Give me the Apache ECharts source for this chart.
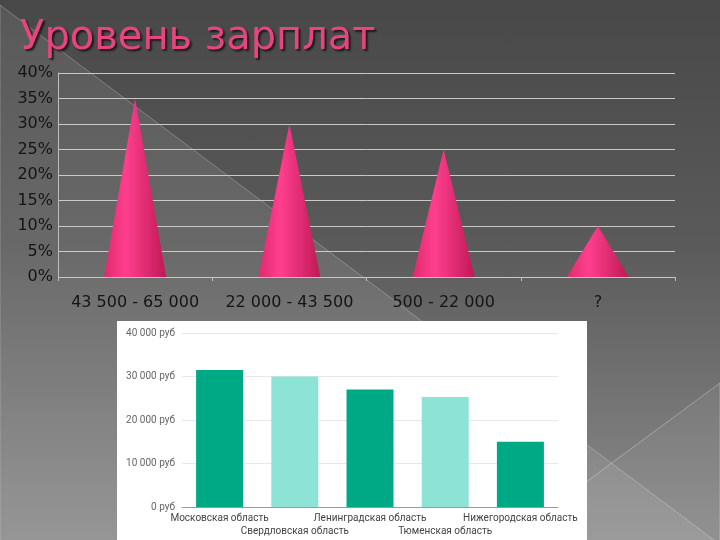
<!DOCTYPE html>
<html>
<head>
<meta charset="utf-8">
<script src="https://cdn.jsdelivr.net/npm/echarts@6/dist/echarts.min.js"></script>
<style>
  html, body { margin: 0; padding: 0; }
  body { background: linear-gradient(180deg, #484848 0%, #5a5a5a 45%, #8c8c8c 100%); }
  #main { width: 720px; height: 540px; }
</style>
</head>
<body>
<div id="main"></div>
<script>
// верхняя диаграмма: доля по диапазонам зарплат
const salaryRanges = ['43 500 - 65 000', '22 000 - 43 500', '500 - 22 000', '?'];
const rangeShares = [35, 30, 25, 10];
const shareTicks = { min: 0, max: 40, step: 5 };

// нижняя диаграмма: средняя зарплата по регионам
const regions = ['Московская область', 'Свердловская область', 'Ленинградская область', 'Тюменская область', 'Нижегородская область'];
const regionSalary = [31500, 30000, 27000, 25300, 15000];
const rubTicks = { min: 0, max: 40000, step: 10000 };

const chart = echarts.init(document.getElementById('main'));

const coneColor = new echarts.graphic.LinearGradient(0, 0, 1, 0, [
    { offset: 0, color: '#e02a6e' },
    { offset: 0.35, color: '#ff3f8e' },
    { offset: 1, color: '#c01856' }
]);

const fmtRub = v => (v === 0 ? '0' : String(v).replace(/\B(?=(\d{3})+(?!\d))/g, ' ')) + ' руб';

chart.setOption({
    animation: false,
    backgroundColor: 'transparent',
    title: {
        text: 'Уровень зарплат',
        left: 15,
        top: 14,
        textStyle: {
            fontFamily: 'DejaVu Sans',
            fontSize: 40,
            fontWeight: 'normal',
            color: '#e6457f',
            textShadowColor: 'rgba(20,20,20,0.9)',
            textShadowBlur: 2,
            textShadowOffsetX: 2,
            textShadowOffsetY: 2
        }
    },
    graphic: [
        // светлый треугольник фона
        { type: 'polygon', z: -10, silent: true,
          shape: { points: [[0, 5], [730, 552], [0, 552]] },
          style: { fill: 'rgba(255,255,255,0.09)', stroke: 'rgba(255,255,255,0.25)', lineWidth: 1 } },
        { type: 'polygon', z: -10, silent: true,
          shape: { points: [[720, 383], [440, 590], [720, 590]] },
          style: { fill: 'rgba(255,255,255,0.05)', stroke: 'rgba(255,255,255,0.3)', lineWidth: 1 } },
        // белая подложка нижней диаграммы
        { type: 'rect', z: -5, silent: true,
          shape: { x: 117, y: 321, width: 470, height: 225 },
          style: { fill: '#ffffff' } }
    ],
    grid: [
        { left: 58, right: 45, top: 73, bottom: 263 },
        { left: 182, right: 162, top: 333, bottom: 33 }
    ],
    xAxis: [
        {
            gridIndex: 0,
            type: 'category',
            data: salaryRanges,
            axisLine: { show: false },
            axisTick: { show: true, length: 4, lineStyle: { color: '#bdbdbd' } },
            axisLabel: { interval: 0, margin: 18, fontFamily: 'DejaVu Sans', fontSize: 16, color: '#151515' }
        },
        {
            gridIndex: 1,
            type: 'category',
            data: regions,
            axisLine: { lineStyle: { color: '#9a9a9a' } },
            axisTick: { show: false },
            axisLabel: {
                interval: 0,
                margin: 5,
                fontFamily: 'Roboto',
                fontSize: 10,
                lineHeight: 13,
                color: '#444',
                formatter: (v, i) => (i % 2 ? '\n' + v : v)
            }
        }
    ],
    yAxis: [
        {
            gridIndex: 0,
            type: 'value',
            min: shareTicks.min,
            max: shareTicks.max,
            interval: shareTicks.step,
            axisLine: { show: true, lineStyle: { color: '#bdbdbd' } },
            axisTick: { show: false },
            splitLine: { lineStyle: { color: '#c9c9c9', width: 1 } },
            axisLabel: { margin: 5, fontFamily: 'DejaVu Sans', fontSize: 16, color: '#151515', formatter: '{value}%' }
        },
        {
            gridIndex: 1,
            type: 'value',
            min: rubTicks.min,
            max: rubTicks.max,
            interval: rubTicks.step,
            axisLine: { show: false },
            axisTick: { show: false },
            splitLine: { lineStyle: { color: '#e8e8e8' } },
            axisLabel: { margin: 7, fontFamily: 'Roboto', fontSize: 10, color: '#666', formatter: fmtRub }
        }
    ],
    series: [
        {
            type: 'pictorialBar',
            xAxisIndex: 0,
            yAxisIndex: 0,
            symbol: 'triangle',
            symbolSize: [62, '100%'],
            itemStyle: { color: coneColor },
            data: rangeShares
        },
        {
            type: 'bar',
            xAxisIndex: 1,
            yAxisIndex: 1,
            barWidth: 47,
            itemStyle: { color: p => (p.dataIndex % 2 ? '#8ce3d6' : '#00a985') },
            data: regionSalary
        }
    ]
});
</script>
</body>
</html>
